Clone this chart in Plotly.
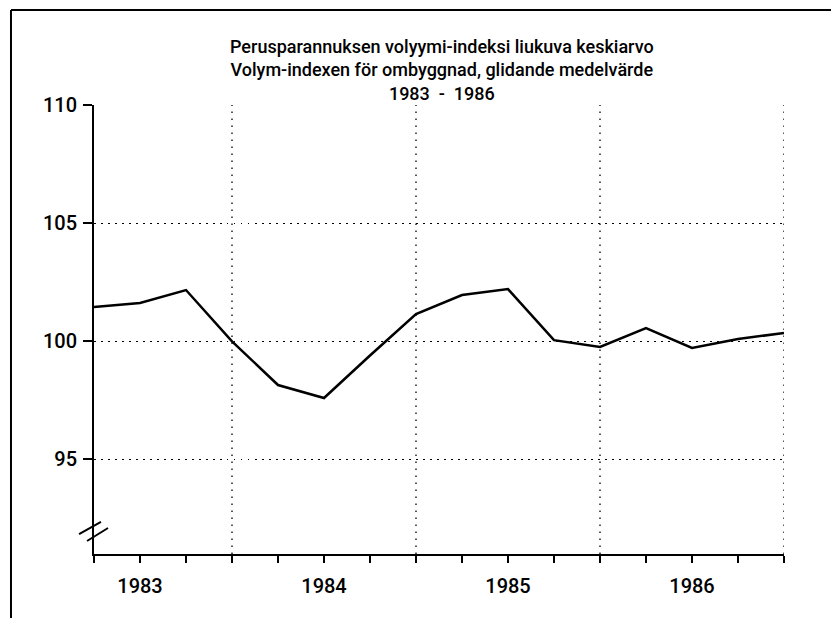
import plotly.graph_objects as go

# Quarterly positions (in years) and index values
quarters = [1983.25, 1983.5, 1983.75, 1984.0, 1984.25, 1984.5, 1984.75, 1985.0,
            1985.25, 1985.5, 1985.75, 1986.0, 1986.25, 1986.5, 1986.75, 1987.0]
values = [101.45, 101.62, 102.17, 100.0, 98.15, 97.6, 99.4, 101.15,
          101.96, 102.21, 100.05, 99.76, 100.56, 99.72, 100.1, 100.35]

year_labels = ["1983", "1984", "1985", "1986"]
year_label_pos = [1983.5, 1984.5, 1985.5, 1986.5]
year_bounds = [1984.0, 1985.0, 1986.0, 1987.0]
y_ticks = [95, 100, 105, 110]

title_lines = [
    "Perusparannuksen volyymi-indeksi liukuva keskiarvo",
    "Volym-indexen för ombyggnad, glidande medelvärde",
    "1983  -  1986",
]

FONT = "Roboto, sans-serif"
DOTS = "1.5px,5.5px"

fig = go.Figure()
fig.add_trace(go.Scatter(
    x=quarters, y=values, mode="lines",
    line=dict(color="black", width=2.5),
    hoverinfo="skip", showlegend=False,
))

for xb in year_bounds:
    fig.add_vline(x=xb, line=dict(color="black", width=1.3, dash=DOTS), layer="below")

fig.update_layout(
    width=831, height=618,
    paper_bgcolor="white", plot_bgcolor="white",
    margin=dict(l=94, r=47, t=105, b=64),
    font=dict(family=FONT, color="black"),
    xaxis=dict(
        range=[quarters[0], quarters[-1]],
        tickvals=year_label_pos, ticktext=year_labels,
        ticks="outside", ticklen=7, tickwidth=1.5, tickcolor="black",
        minor=dict(tick0=1983.25, dtick=0.25, ticks="outside", ticklen=7,
                   tickwidth=1.5, tickcolor="black", showgrid=False),
        showgrid=False, zeroline=False,
        showline=True, linecolor="black", linewidth=2,
        tickfont=dict(size=20, family=FONT, weight=500),
        ticklabelstandoff=6,
    ),
    yaxis=dict(
        range=[91, 110],
        tickvals=y_ticks,
        ticks="outside", ticklen=9, tickwidth=1.5, tickcolor="black",
        showgrid=True, gridcolor="black", gridwidth=1.3, griddash=DOTS,
        zeroline=False,
        showline=True, linecolor="black", linewidth=2,
        tickfont=dict(size=20, family=FONT, weight=500),
        ticklabelstandoff=2,
    ),
    annotations=[dict(
        text="<br>".join(title_lines), xref="paper", yref="paper",
        x=0.5037, y=1.0, xanchor="center", yanchor="bottom", yshift=-1,
        showarrow=False, align="center",
        font=dict(size=18, family=FONT, color="black", weight=500),
    )],
)

# outer scan frame (left and top edges)
fig.add_shape(type="line", xref="paper", yref="paper", x0=-0.1203, x1=-0.1203, y0=1.2116, y1=-0.2,
              line=dict(color="black", width=2))
fig.add_shape(type="line", xref="paper", yref="paper", x0=-0.1203, x1=1.1, y0=1.2116, y1=1.2116,
              line=dict(color="black", width=2))

# axis break marks
fig.add_shape(type="line", xref="paper", yref="paper", x0=-0.0217, y0=0.0445, x1=0.0101, y1=0.0713,
              line=dict(color="black", width=2))
fig.add_shape(type="line", xref="paper", yref="paper", x0=-0.0101, y0=0.029, x1=0.0203, y1=0.0579,
              line=dict(color="black", width=2))

fig.write_html("out.html", config={"displayModeBar": False},
               post_script="document.body.style.margin='0';")
